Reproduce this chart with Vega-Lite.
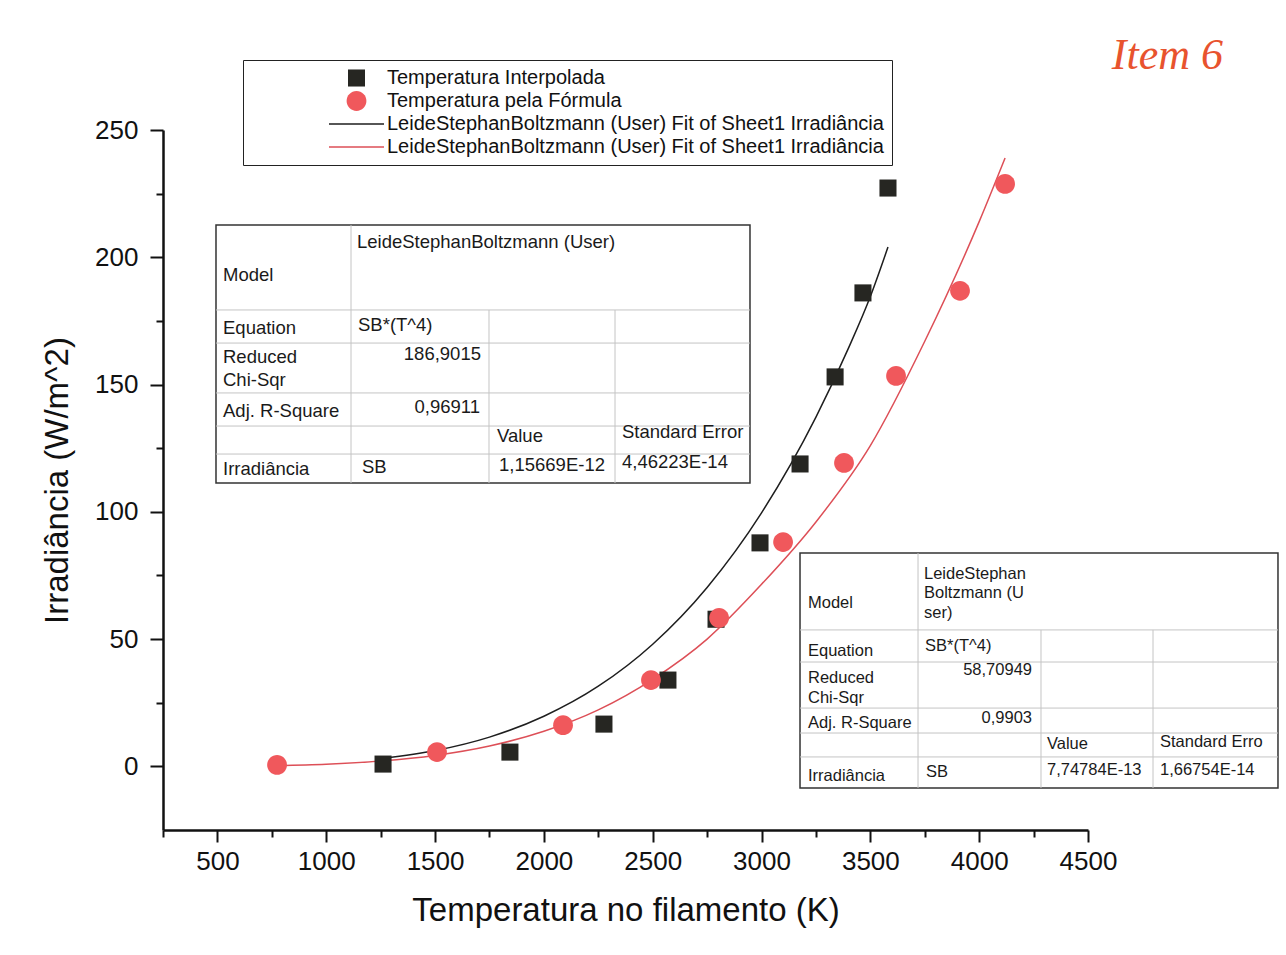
{
  "$schema": "https://vega.github.io/schema/vega-lite/v6.json",
  "width": 925,
  "height": 700,
  "autosize": {"type": "none"},
  "padding": {"left": 163, "top": 130, "right": 198, "bottom": 125},
  "background": "white",
  "config": {"view": {"stroke": null}, "font": "Liberation Sans"},
  "title": {"text": "Item 6", "anchor": "end", "frame": "group", "orient": "top", "offset": -18, "dx": 135, "fontSize": 44, "font": "Liberation Serif", "fontStyle": "italic", "fontWeight": "normal", "color": "#e8532e"},
  "datasets": {
    "points": [
      {"series": "Temperatura Interpolada", "T": 1261, "irr": 0.9},
      {"series": "Temperatura Interpolada", "T": 1844, "irr": 5.6},
      {"series": "Temperatura Interpolada", "T": 2276, "irr": 16.6},
      {"series": "Temperatura Interpolada", "T": 2570, "irr": 33.9},
      {"series": "Temperatura Interpolada", "T": 2791, "irr": 57.8},
      {"series": "Temperatura Interpolada", "T": 2993, "irr": 87.8},
      {"series": "Temperatura Interpolada", "T": 3177, "irr": 118.8},
      {"series": "Temperatura Interpolada", "T": 3338, "irr": 153.0},
      {"series": "Temperatura Interpolada", "T": 3466, "irr": 186.0},
      {"series": "Temperatura Interpolada", "T": 3581, "irr": 227.2},
      {"series": "Temperatura pela Fórmula", "T": 774, "irr": 0.55},
      {"series": "Temperatura pela Fórmula", "T": 1509, "irr": 5.6},
      {"series": "Temperatura pela Fórmula", "T": 2088, "irr": 16.2},
      {"series": "Temperatura pela Fórmula", "T": 2492, "irr": 33.9},
      {"series": "Temperatura pela Fórmula", "T": 2805, "irr": 58.3},
      {"series": "Temperatura pela Fórmula", "T": 3099, "irr": 88.1},
      {"series": "Temperatura pela Fórmula", "T": 3379, "irr": 119.2},
      {"series": "Temperatura pela Fórmula", "T": 3618, "irr": 153.4},
      {"series": "Temperatura pela Fórmula", "T": 3912, "irr": 186.8},
      {"series": "Temperatura pela Fórmula", "T": 4119, "irr": 228.8}
    ],
    "fits": [
      {"series": "Fit Interpolada", "T": 1261, "irr": 3.1},
      {"series": "Fit Interpolada", "T": 1500, "irr": 6.2},
      {"series": "Fit Interpolada", "T": 1750, "irr": 11.5},
      {"series": "Fit Interpolada", "T": 2000, "irr": 19.7},
      {"series": "Fit Interpolada", "T": 2250, "irr": 31.5},
      {"series": "Fit Interpolada", "T": 2500, "irr": 48.0},
      {"series": "Fit Interpolada", "T": 2750, "irr": 70.3},
      {"series": "Fit Interpolada", "T": 3000, "irr": 99.6},
      {"series": "Fit Interpolada", "T": 3250, "irr": 137.2},
      {"series": "Fit Interpolada", "T": 3400, "irr": 164.4},
      {"series": "Fit Interpolada", "T": 3500, "irr": 184.6},
      {"series": "Fit Interpolada", "T": 3581, "irr": 204.0},
      {"series": "Fit Fórmula", "T": 774, "irr": 0.3},
      {"series": "Fit Fórmula", "T": 1000, "irr": 0.85},
      {"series": "Fit Fórmula", "T": 1250, "irr": 2.1},
      {"series": "Fit Fórmula", "T": 1500, "irr": 4.3},
      {"series": "Fit Fórmula", "T": 1750, "irr": 8.0},
      {"series": "Fit Fórmula", "T": 2000, "irr": 13.8},
      {"series": "Fit Fórmula", "T": 2250, "irr": 22.2},
      {"series": "Fit Fórmula", "T": 2500, "irr": 34.2},
      {"series": "Fit Fórmula", "T": 2750, "irr": 50.0},
      {"series": "Fit Fórmula", "T": 3000, "irr": 71.5},
      {"series": "Fit Fórmula", "T": 3250, "irr": 96.0},
      {"series": "Fit Fórmula", "T": 3500, "irr": 126.0},
      {"series": "Fit Fórmula", "T": 3750, "irr": 167.0},
      {"series": "Fit Fórmula", "T": 4000, "irr": 214.0},
      {"series": "Fit Fórmula", "T": 4119, "irr": 239.0}
    ],
    "boxes": [
      {"tbl": "A", "T": 493.5, "T2": 2947, "irr": 212.7, "irr2": 111.3},
      {"tbl": "B", "T": 3176.8, "T2": 5372.9, "irr": 83.8, "irr2": -8.5}
    ],
    "gridlines": [
      {"tbl": "A", "T": 1113.8, "T2": 1113.8, "irr": 212.7, "irr2": 111.3},
      {"tbl": "A", "T": 1747.8, "T2": 1747.8, "irr": 179.3, "irr2": 111.3},
      {"tbl": "A", "T": 2326.8, "T2": 2326.8, "irr": 179.3, "irr2": 111.3},
      {"tbl": "A", "T": 493.5, "T2": 2947, "irr": 179.3, "irr2": 179.3},
      {"tbl": "A", "T": 493.5, "T2": 2947, "irr": 166.3, "irr2": 166.3},
      {"tbl": "A", "T": 493.5, "T2": 2947, "irr": 146.7, "irr2": 146.7},
      {"tbl": "A", "T": 493.5, "T2": 2947, "irr": 133.7, "irr2": 133.7},
      {"tbl": "A", "T": 493.5, "T2": 2947, "irr": 122.7, "irr2": 122.7},
      {"tbl": "B", "T": 3719, "T2": 3719, "irr": 83.8, "irr2": -8.5},
      {"tbl": "B", "T": 4284, "T2": 4284, "irr": 53.6, "irr2": -8.5},
      {"tbl": "B", "T": 4798.7, "T2": 4798.7, "irr": 53.6, "irr2": -8.5},
      {"tbl": "B", "T": 3176.8, "T2": 5372.9, "irr": 53.6, "irr2": 53.6},
      {"tbl": "B", "T": 3176.8, "T2": 5372.9, "irr": 41.0, "irr2": 41.0},
      {"tbl": "B", "T": 3176.8, "T2": 5372.9, "irr": 22.9, "irr2": 22.9},
      {"tbl": "B", "T": 3176.8, "T2": 5372.9, "irr": 13.1, "irr2": 13.1},
      {"tbl": "B", "T": 3176.8, "T2": 5372.9, "irr": 3.7, "irr2": 3.7}
    ],
    "cells": [
      {"tbl": "A", "kind": "lbl", "T": 525.7, "irr": 193.0, "text": "Model"},
      {"tbl": "A", "kind": "lbl", "T": 1141.4, "irr": 206.0, "text": "LeideStephanBoltzmann (User)"},
      {"tbl": "A", "kind": "lbl", "T": 525.7, "irr": 172.2, "text": "Equation"},
      {"tbl": "A", "kind": "lbl", "T": 1146, "irr": 173.4, "text": "SB*(T^4)"},
      {"tbl": "A", "kind": "lbl", "T": 525.7, "irr": 160.8, "text": "Reduced\nChi-Sqr"},
      {"tbl": "A", "kind": "num", "T": 1711, "irr": 162.0, "text": "186,9015"},
      {"tbl": "A", "kind": "lbl", "T": 525.7, "irr": 139.6, "text": "Adj. R-Square"},
      {"tbl": "A", "kind": "num", "T": 1706.5, "irr": 141.2, "text": "0,96911"},
      {"tbl": "A", "kind": "lbl", "T": 1784.6, "irr": 129.8, "text": "Value"},
      {"tbl": "A", "kind": "lbl", "T": 2358.9, "irr": 131.4, "text": "Standard Error"},
      {"tbl": "A", "kind": "lbl", "T": 525.7, "irr": 116.8, "text": "Irradiância"},
      {"tbl": "A", "kind": "lbl", "T": 1164.3, "irr": 117.6, "text": "SB"},
      {"tbl": "A", "kind": "lbl", "T": 1793.8, "irr": 118.4, "text": "1,15669E-12"},
      {"tbl": "A", "kind": "lbl", "T": 2358.9, "irr": 119.6, "text": "4,46223E-14"},
      {"tbl": "B", "kind": "lbl", "T": 3213.5, "irr": 64.2, "text": "Model"},
      {"tbl": "B", "kind": "lbl", "T": 3746.5, "irr": 75.6, "text": "LeideStephan\nBoltzmann (U\nser)"},
      {"tbl": "B", "kind": "lbl", "T": 3213.5, "irr": 45.3, "text": "Equation"},
      {"tbl": "B", "kind": "lbl", "T": 3751, "irr": 47.3, "text": "SB*(T^4)"},
      {"tbl": "B", "kind": "lbl", "T": 3213.5, "irr": 34.7, "text": "Reduced\nChi-Sqr"},
      {"tbl": "B", "kind": "num", "T": 4242.7, "irr": 37.9, "text": "58,70949"},
      {"tbl": "B", "kind": "lbl", "T": 3213.5, "irr": 17.0, "text": "Adj. R-Square"},
      {"tbl": "B", "kind": "num", "T": 4242.7, "irr": 19.0, "text": "0,9903"},
      {"tbl": "B", "kind": "lbl", "T": 4311.6, "irr": 8.8, "text": "Value"},
      {"tbl": "B", "kind": "lbl", "T": 4830.8, "irr": 9.6, "text": "Standard Erro"},
      {"tbl": "B", "kind": "lbl", "T": 3213.5, "irr": -3.8, "text": "Irradiância"},
      {"tbl": "B", "kind": "lbl", "T": 3755.7, "irr": -2.2, "text": "SB"},
      {"tbl": "B", "kind": "lbl", "T": 4311.6, "irr": -1.4, "text": "7,74784E-13"},
      {"tbl": "B", "kind": "lbl", "T": 4830.8, "irr": -1.4, "text": "1,66754E-14"}
    ]
  },
  "encoding": {
    "x": {
      "field": "T", "type": "quantitative",
      "scale": {"domain": [250, 4500], "nice": false, "zero": false},
      "axis": {
        "title": "Temperatura no filamento (K)",
        "values": [250, 500, 750, 1000, 1250, 1500, 1750, 2000, 2250, 2500, 2750, 3000, 3250, 3500, 3750, 4000, 4250, 4500],
        "format": "d",
        "labelExpr": "datum.value % 500 === 0 ? datum.label : ''",
        "tickSize": {"condition": {"test": "datum.value % 500 === 0", "value": 12}, "value": 7},
        "labelFlush": false, "labelOverlap": false, "grid": false,
        "domainColor": "#111111", "domainWidth": 2.5, "tickColor": "#111111", "tickWidth": 2,
        "labelFont": "Liberation Sans", "labelFontSize": 26, "labelColor": "#111111", "labelPadding": 6,
        "titleFont": "Liberation Sans", "titleFontSize": 33, "titleFontWeight": "normal", "titlePadding": 20, "titleColor": "#111111"
      }
    },
    "y": {
      "field": "irr", "type": "quantitative",
      "scale": {"domain": [-25, 250], "nice": false, "zero": false},
      "axis": {
        "title": "Irradiância (W/m^2)",
        "values": [0, 25, 50, 75, 100, 125, 150, 175, 200, 225, 250],
        "labelExpr": "datum.value % 50 === 0 ? datum.label : ''",
        "tickSize": {"condition": {"test": "datum.value % 50 === 0", "value": 13}, "value": 7},
        "labelOverlap": false, "labelFlush": false, "grid": false,
        "domainColor": "#111111", "domainWidth": 2.5, "tickColor": "#111111", "tickWidth": 2,
        "labelFont": "Liberation Sans", "labelFontSize": 26, "labelColor": "#111111", "labelPadding": 12,
        "titleFont": "Liberation Sans", "titleFontSize": 33, "titleFontWeight": "normal", "titlePadding": 20, "titleColor": "#111111"
      }
    }
  },
  "layer": [
    {
      "data": {"name": "fits"},
      "mark": {"type": "line", "interpolate": "monotone", "strokeWidth": 1.5},
      "encoding": {
        "stroke": {"field": "series", "type": "nominal", "legend": null,
          "scale": {"domain": ["Fit Interpolada", "Fit Fórmula"], "range": ["#1e1e1e", "#dd4f57"]}}
      }
    },
    {
      "data": {"name": "points"},
      "mark": {"type": "point", "filled": true, "opacity": 1, "size": 3025, "strokeWidth": 0},
      "encoding": {
        "shape": {"field": "series", "type": "nominal",
          "scale": {"domain": ["Temperatura Interpolada", "Temperatura pela Fórmula", "Fit Interpolada", "Fit Fórmula"],
            "range": ["M-0.31,-0.31H0.31V0.31H-0.31Z", "M-0.36,0A0.36,0.36,0,1,0,0.36,0A0.36,0.36,0,1,0,-0.36,0Z", "M-1,-0.028H1V0.028H-1Z", "M-1,-0.028H1V0.028H-1Z"]}},
        "color": {"field": "series", "type": "nominal",
          "scale": {"domain": ["Temperatura Interpolada", "Temperatura pela Fórmula", "Fit Interpolada", "Fit Fórmula"], "range": ["#262622", "#f0585c", "#1e1e1e", "#dd4f57"]},
          "legend": {
            "title": null, "orient": "none", "legendX": 80, "legendY": -70, "direction": "vertical",
            "strokeColor": "#222222", "fillColor": "white", "padding": 8,
            "labelFont": "Liberation Sans", "labelFontSize": 20, "labelColor": "#111111", "labelLimit": 900,
            "labelExpr": "indexof(datum.value, 'Fit') === 0 ? 'LeideStephanBoltzmann (User) Fit of Sheet1 Irradiância' : datum.value",
            "symbolSize": 3025, "symbolOffset": 78, "labelOffset": 3, "rowPadding": 3, "symbolStrokeWidth": 0, "clipHeight": 20
          }
        }
      }
    },
    {
      "data": {"name": "boxes"},
      "mark": {"type": "rect", "fill": "white", "stroke": "#333333", "strokeWidth": 1.5},
      "encoding": {"x2": {"field": "T2"}, "y2": {"field": "irr2"}}
    },
    {
      "data": {"name": "gridlines"},
      "mark": {"type": "rule", "color": "#c4c4c4", "strokeWidth": 1},
      "encoding": {"x2": {"field": "T2"}, "y2": {"field": "irr2"}}
    },
    {
      "data": {"name": "cells"},
      "transform": [{"filter": "datum.tbl === 'A' && datum.kind === 'lbl'"}],
      "mark": {"type": "text", "align": "left", "baseline": "middle", "fontSize": 18.5, "lineHeight": 23, "lineBreak": "\n", "color": "#1a1a1a", "font": "Liberation Sans"},
      "encoding": {"text": {"field": "text"}}
    },
    {
      "data": {"name": "cells"},
      "transform": [{"filter": "datum.tbl === 'A' && datum.kind === 'num'"}],
      "mark": {"type": "text", "align": "right", "baseline": "middle", "fontSize": 18.5, "color": "#1a1a1a", "font": "Liberation Sans"},
      "encoding": {"text": {"field": "text"}}
    },
    {
      "data": {"name": "cells"},
      "transform": [{"filter": "datum.tbl === 'B' && datum.kind === 'lbl'"}],
      "mark": {"type": "text", "align": "left", "baseline": "middle", "fontSize": 16.5, "lineHeight": 19.5, "lineBreak": "\n", "color": "#1a1a1a", "font": "Liberation Sans"},
      "encoding": {"text": {"field": "text"}}
    },
    {
      "data": {"name": "cells"},
      "transform": [{"filter": "datum.tbl === 'B' && datum.kind === 'num'"}],
      "mark": {"type": "text", "align": "right", "baseline": "middle", "fontSize": 16.5, "color": "#1a1a1a", "font": "Liberation Sans"},
      "encoding": {"text": {"field": "text"}}
    }
  ]
}
